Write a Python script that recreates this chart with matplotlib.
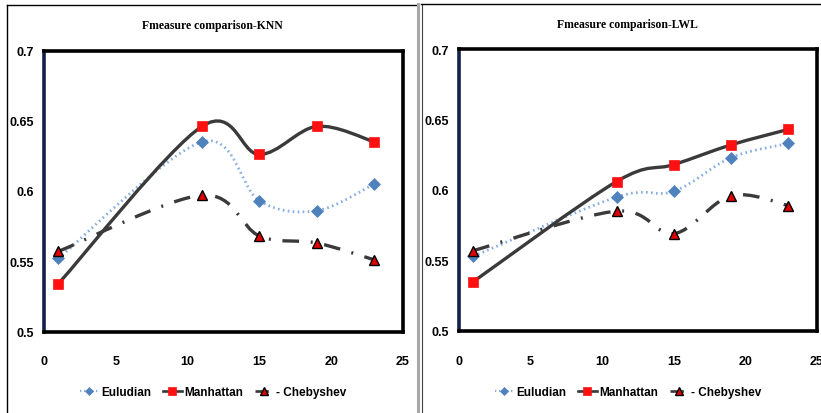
import numpy as np
import matplotlib
matplotlib.use("Agg")
import matplotlib.pyplot as plt
from matplotlib.path import Path
from matplotlib.patches import PathPatch
from matplotlib.lines import Line2D
from matplotlib import font_manager

# data
k_values = [1, 11, 15, 19, 23]

knn_euclidean = [0.552, 0.635, 0.593, 0.586, 0.605]
knn_manhattan = [0.534, 0.646, 0.626, 0.646, 0.635]
knn_chebyshev = [0.557, 0.597, 0.568, 0.563, 0.551]

lwl_euclidean = [0.553, 0.595, 0.599, 0.623, 0.633]
lwl_manhattan = [0.535, 0.606, 0.618, 0.632, 0.643]
lwl_chebyshev = [0.557, 0.585, 0.569, 0.596, 0.589]

series_names = ['Euludian', 'Manhattan', '- Chebyshev']
titles = ['Fmeasure comparison-KNN', 'Fmeasure comparison-LWL']
y_ticks = [0.5, 0.55, 0.6, 0.65, 0.7]
y_labels = ['0.5', '0.55', '0.6', '0.65', '0.7']
x_ticks = [0, 5, 10, 15, 20, 25]

names = {f.name for f in font_manager.fontManager.ttflist}
sans = 'Liberation Sans Narrow' if 'Liberation Sans Narrow' in names else 'Liberation Sans'
serif = 'Liberation Serif'

styles = [
    dict(color='#86aee0', lw=2.0, ls=(0, (0.6, 1.2)), marker='D', ms=6,
         mfc='#4f81bd', mec='#4f81bd', mew=0.5),
    dict(color='#3a3a3a', lw=2.4, ls='-', marker='s', ms=7,
         mfc='#ff1010', mec='#ff1010', mew=0.5),
    dict(color='#3a3a3a', lw=2.4, ls=(0, (5, 3.5, 0.6, 3.5)), marker='^', ms=7,
         mfc='#e00000', mec='black', mew=1.0),
]


def smooth_path(xs, ys):
    # bezier through the points, like a spreadsheet "smoothed line"
    p = np.column_stack([xs, ys]).astype(float)
    ext = np.vstack([p[0], p, p[-1]])
    verts = [p[0]]
    codes = [Path.MOVETO]
    for i in range(len(p) - 1):
        c1 = ext[i + 1] + (ext[i + 2] - ext[i]) / 6
        c2 = ext[i + 2] - (ext[i + 3] - ext[i + 1]) / 6
        verts += [c1, c2, p[i + 1]]
        codes += [Path.CURVE4] * 3
    return Path(verts, codes)


fig = plt.figure(figsize=(8.21, 4.14), dpi=100)
W, H = 821, 414


def fx(px):
    return px / W


def fy(py):
    return 1 - py / H


# panel frames
frame = dict(transform=fig.transFigure, color='black', lw=1.0)
fig.add_artist(Line2D([fx(7), fx(7)], [fy(6), 0], **frame))
fig.add_artist(Line2D([fx(7), fx(417)], [fy(6), fy(6)], **frame))
fig.add_artist(Line2D([fx(418), fx(418)], [fy(5), 0], transform=fig.transFigure,
                      color='#a8a8a8', lw=2.2))
fig.add_artist(Line2D([fx(421.5), fx(421.5)], [fy(5), 0], transform=fig.transFigure,
                      color='#404040', lw=0.8))
fig.add_artist(Line2D([fx(421), 1], [fy(5), fy(5)], **frame))

panels = [
    dict(rect=[fx(44), fy(332.5), fx(403 - 44), (332.5 - 51.5) / H],
         data=[knn_euclidean, knn_manhattan, knn_chebyshev], title_xy=(212, 26),
         legend_x=213),
    dict(rect=[fx(459), fy(332), fx(817 - 459), (332 - 50) / H],
         data=[lwl_euclidean, lwl_manhattan, lwl_chebyshev], title_xy=(627, 25),
         legend_x=628),
]

for n, panel in enumerate(panels):
    ax = fig.add_axes(panel['rect'])
    handles = []
    for vals, st, name in zip(panel['data'], styles, series_names):
        patch = PathPatch(smooth_path(k_values, vals), fill=False, edgecolor=st['color'],
                          lw=st['lw'], ls=st['ls'], capstyle='butt', zorder=2)
        ax.add_patch(patch)
        ax.plot(k_values, vals, ls='none', marker=st['marker'], ms=st['ms'],
                mfc=st['mfc'], mec=st['mec'], mew=st['mew'], zorder=3)
        handles.append(Line2D([], [], color=st['color'], lw=st['lw'] * 0.8,
                              ls=st['ls'] if n == 0 or True else '-',
                              marker=st['marker'], ms=st['ms'] - 1.5, mfc=st['mfc'],
                              mec=st['mec'], mew=st['mew']))
    ax.set_xlim(0, 25)
    ax.set_ylim(0.5, 0.7)
    ax.set_xticks(x_ticks)
    ax.set_yticks(y_ticks)
    ax.set_yticklabels(y_labels)
    ax.tick_params(axis='both', length=0)
    ax.tick_params(axis='y', pad=7)
    ax.tick_params(axis='x', pad=17)
    for lab in ax.get_xticklabels() + ax.get_yticklabels():
        lab.set_fontfamily(sans)
        lab.set_fontweight('bold')
        lab.set_fontsize(9)
    for side in ['top', 'right', 'bottom']:
        ax.spines[side].set_linewidth(2.6)
        ax.spines[side].set_color('black')
    ax.spines['left'].set_linewidth(2.6)
    ax.spines['left'].set_color('#13204a')

    tx, ty = panel['title_xy']
    fig.text(fx(tx), fy(ty), titles[n], ha='center', va='center', family=serif,
             weight='bold', size=8.5)

    fig.legend(handles, series_names, loc='center', ncol=3, frameon=False,
               bbox_to_anchor=(fx(panel['legend_x']), fy(393)),
               prop=dict(family=sans, weight='bold', size=8.5),
               handlelength=1.6, handletextpad=0.2, columnspacing=1.0)

fig.savefig('out.png', dpi=100)
